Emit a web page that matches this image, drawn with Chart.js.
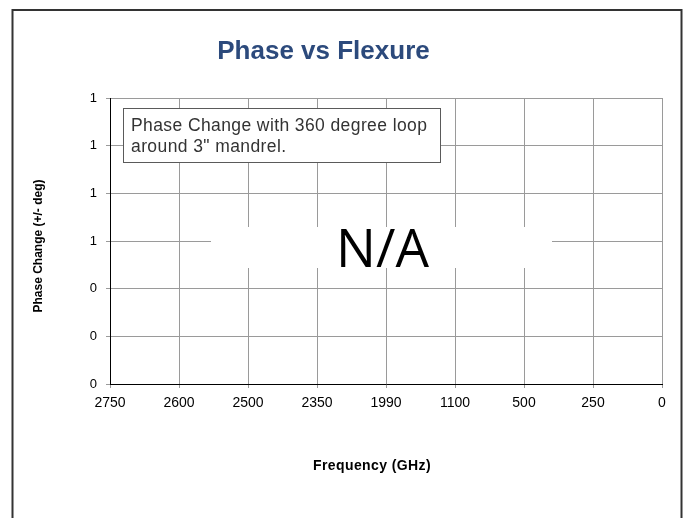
<!DOCTYPE html>
<html>
<head>
<meta charset="utf-8">
<script src="https://cdn.jsdelivr.net/npm/chart.js@4/dist/chart.umd.min.js"></script>
<style>
  html, body { margin: 0; padding: 0; background: #fff; }
  canvas { display: block; }
</style>
</head>
<body>
<canvas id="c" width="686" height="518" style="width:686px;height:518px"></canvas>
<script>
// ---- data ----
const categories = ['2750', '2600', '2500', '2350', '1990', '1100', '500', '250', '0'];
const phaseValues = [null, null, null, null, null, null, null, null, null]; // no data (N/A)
const yTickValues = [0, 0.2, 0.4, 0.6, 0.8, 1.0, 1.2];
const yTickLabels = ['0', '0', '0', '1', '1', '1', '1'];
const chartTitle = 'Phase vs Flexure';
const xTitle = 'Frequency (GHz)';
const yTitle = 'Phase Change (+/- deg)';
const noteLines = ['Phase Change with 360 degree loop', 'around 3" mandrel.'];
const naText = 'N/A';

const FONT = '"Liberation Sans", Arial, sans-serif';

const decor = {
  id: 'decor',
  afterDraw(chart) {
    const ctx = chart.ctx;
    ctx.save();
    // outer border
    ctx.strokeStyle = '#333333';
    ctx.lineWidth = 2;
    ctx.strokeRect(12.5, 10, 669, 600);

    // title
    ctx.fillStyle = '#2c4a7c';
    ctx.font = 'bold 26px ' + FONT;
    ctx.textAlign = 'center';
    ctx.textBaseline = 'alphabetic';
    ctx.letterSpacing = '0px';
    ctx.fillText(chartTitle, 323.5, 59);

    // x title
    ctx.fillStyle = '#000';
    ctx.font = 'bold 14px ' + FONT;
    ctx.letterSpacing = '0.4px';
    ctx.fillText(xTitle, 372, 470);

    // y title
    ctx.letterSpacing = '0px';
    ctx.font = 'bold 12px ' + FONT;
    ctx.save();
    ctx.translate(42, 246);
    ctx.rotate(-Math.PI / 2);
    ctx.fillText(yTitle, 0, 0);
    ctx.restore();

    // note box
    ctx.fillStyle = '#fff';
    ctx.fillRect(123, 108, 317, 54);
    ctx.strokeStyle = '#5a5a5a';
    ctx.lineWidth = 1;
    ctx.strokeRect(123.5, 108.5, 317, 54);
    ctx.fillStyle = '#333';
    ctx.font = '17.5px ' + FONT;
    ctx.textAlign = 'left';
    ctx.letterSpacing = '0.4px';
    ctx.fillText(noteLines[0], 131, 131);
    ctx.fillText(noteLines[1], 131, 152);

    // N/A patch
    ctx.letterSpacing = '0px';
    ctx.fillStyle = '#fff';
    ctx.fillRect(211, 227, 341, 41);
    ctx.fillStyle = '#000';
    ctx.font = '53px "Open Sans", "Noto Sans", sans-serif';
    ctx.textAlign = 'center';
    ctx.textBaseline = 'alphabetic';
    ctx.fillText(naText, 382.5, 267);
    ctx.restore();
  }
};

new Chart(document.getElementById('c'), {
  type: 'line',
  data: {
    labels: categories,
    datasets: [{
      label: 'Phase Change',
      data: phaseValues,
      borderColor: '#000',
      pointRadius: 0
    }]
  },
  options: {
    responsive: false,
    animation: false,
    devicePixelRatio: 1,
    layout: { padding: { left: 12, right: 24, top: 98, bottom: 34 } },
    plugins: {
      legend: { display: false },
      title: { display: false },
      tooltip: { enabled: false }
    },
    scales: {
      x: {
        type: 'category',
        offset: false,
        grid: { color: '#9a9a9a', lineWidth: 1, drawTicks: true, tickLength: 4 },
        border: { color: '#000', width: 1 },
        ticks: {
          color: '#000',
          font: { family: FONT, size: 14 },
          padding: 7,
          autoSkip: false,
          maxRotation: 0
        },
        afterFit(s) { s.height = 100; }
      },
      y: {
        type: 'linear',
        min: 0,
        max: 1.2,
        afterBuildTicks(s) { s.ticks = yTickValues.map(v => ({ value: v })); },
        grid: { color: '#9a9a9a', lineWidth: 1, drawTicks: true, tickLength: 4 },
        border: { color: '#000', width: 1 },
        ticks: {
          color: '#000',
          font: { family: FONT, size: 13 },
          padding: 9,
          callback(v, i) { return yTickLabels[i]; }
        },
        afterFit(s) { s.width = 98; }
      }
    }
  },
  plugins: [decor]
});
</script>
</body>
</html>
